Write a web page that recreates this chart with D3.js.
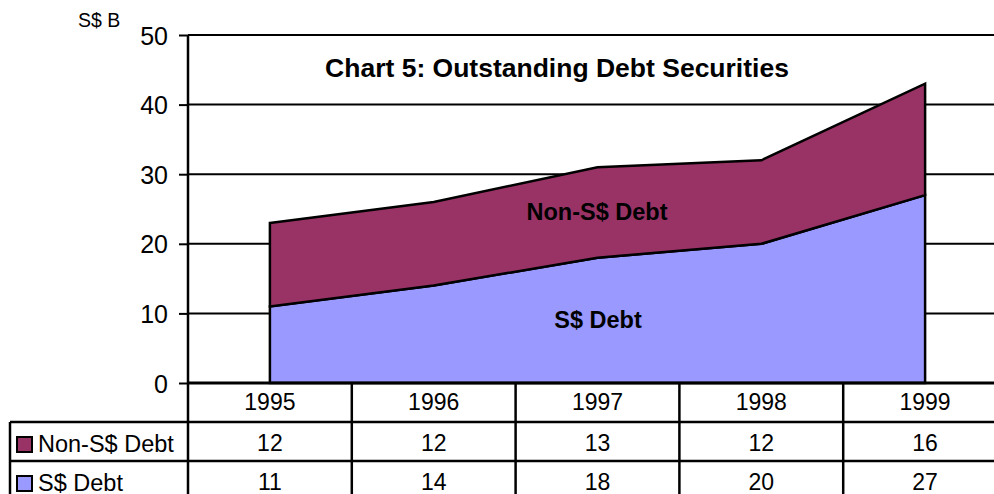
<!DOCTYPE html>
<html>
<head>
<meta charset="utf-8">
<script src="https://cdn.jsdelivr.net/npm/d3@7"></script>
<style>
	body { margin: 0; background: #fff; }
	svg { display: block; font-family: "Liberation Sans", Arial, sans-serif; }
</style>
</head>
<body>
<svg id="chart" width="994" height="494"></svg>
<script>
(function(){

	var years = ["1995", "1996", "1997", "1998", "1999"];
	var sgdDebt = [11, 14, 18, 20, 27];
	var nonSgdDebt = [12, 12, 13, 12, 16];
	var yTicks = [0, 10, 20, 30, 40, 50];
	var seriesNames = ["Non-S$ Debt", "S$ Debt"];
	var seriesColors = ["#993366", "#9999ff"];

	var svg = d3.select("#chart");
	var left = 188, right = 1007, top = 35, bottom = 383;
	var rowTops = [383, 422, 461, 500];

	var x = d3.scaleBand().domain(years).range([left, right]);
	var y = d3.scaleLinear().domain([0, 50]).range([bottom, top]);

	var rows = years.map(function(yr, i){
		return {year: yr, sgd: sgdDebt[i], non: nonSgdDebt[i]};
	});
	var stack = d3.stack().keys(["sgd", "non"])(rows);

	// gridlines
	svg.append("g")
		.selectAll("line")
		.data(yTicks.slice(1))
		.enter().append("line")
			.attr("x1", left).attr("x2", right)
			.attr("y1", function(d){ return y(d); })
			.attr("y2", function(d){ return y(d); })
			.attr("stroke", "#000")
			.attr("stroke-width", 2);

	// areas
	var area = d3.area()
		.x(function(d){ return x(d.data.year) + x.bandwidth() / 2; })
		.y0(function(d){ return y(d[0]); })
		.y1(function(d){ return y(d[1]); });

	var fills = {sgd: seriesColors[1], non: seriesColors[0]};
	svg.append("g")
		.selectAll("path")
		.data(stack)
		.enter().append("path")
			.attr("d", area)
			.attr("fill", function(d){ return fills[d.key]; })
			.attr("stroke", "#000")
			.attr("stroke-width", 2.5)
			.attr("stroke-linejoin", "miter");

	// y axis
	var yAxis = svg.append("g")
		.attr("transform", "translate(" + left + ",0)")
		.call(d3.axisLeft(y).tickValues(yTicks).tickSize(9).tickPadding(11));
	yAxis.select(".domain").attr("stroke", "#000").attr("stroke-width", 2.5).attr("d", "M0," + top + "V" + rowTops[3]);
	yAxis.selectAll(".tick line").attr("stroke", "#000").attr("stroke-width", 2);
	yAxis.selectAll(".tick text")
		.attr("fill", "#000")
		.attr("dy", "0.36em")
		.style("font-size", "25px")
		.style("font-family", "Liberation Sans, Arial, sans-serif");

	// axis baseline
	svg.append("line")
		.attr("x1", left).attr("x2", right)
		.attr("y1", bottom).attr("y2", bottom)
		.attr("stroke", "#000").attr("stroke-width", 3);

	// data table
	var table = svg.append("g");
	table.selectAll(".hline")
		.data(rowTops.slice(1))
		.enter().append("line")
			.attr("x1", 10).attr("x2", right)
			.attr("y1", function(d){ return d; })
			.attr("y2", function(d){ return d; })
			.attr("stroke", "#000").attr("stroke-width", 2.5);
	table.append("line")
		.attr("x1", 10).attr("x2", 10)
		.attr("y1", rowTops[1]).attr("y2", rowTops[3])
		.attr("stroke", "#000").attr("stroke-width", 2.5);
	table.selectAll(".vline")
		.data(years.slice(1))
		.enter().append("line")
			.attr("x1", function(d){ return x(d); })
			.attr("x2", function(d){ return x(d); })
			.attr("y1", bottom).attr("y2", rowTops[3])
			.attr("stroke", "#000").attr("stroke-width", 2.5);

	var tableRows = [years, nonSgdDebt, sgdDebt];
	tableRows.forEach(function(vals, r){
		table.selectAll(".cell" + r)
			.data(vals)
			.enter().append("text")
				.attr("x", function(d, i){ return x(years[i]) + x.bandwidth() / 2; })
				.attr("y", rowTops[r] + (r === 0 ? 27 : 29))
				.attr("text-anchor", "middle")
				.style("font-size", "23px")
				.text(function(d){ return d; });
	});

	// legend keys in table
	seriesNames.forEach(function(name, i){
		var rt = rowTops[i + 1];
		table.append("rect")
			.attr("x", 17).attr("y", rt + 15)
			.attr("width", 15).attr("height", 15)
			.attr("fill", seriesColors[i])
			.attr("stroke", "#000").attr("stroke-width", 2);
		table.append("text")
			.attr("x", 38).attr("y", rt + 30)
			.style("font-size", "23.5px")
			.text(name);
	});

	// labels
	svg.append("text")
		.attr("x", 557).attr("y", 77)
		.attr("text-anchor", "middle")
		.style("font-size", "26.5px").style("font-weight", "bold")
		.text("Chart 5: Outstanding Debt Securities");

	svg.append("text")
		.attr("x", 597).attr("y", 220)
		.attr("text-anchor", "middle")
		.style("font-size", "23.5px").style("font-weight", "bold")
		.text("Non-S$ Debt");

	svg.append("text")
		.attr("x", 598).attr("y", 328)
		.attr("text-anchor", "middle")
		.style("font-size", "23.5px").style("font-weight", "bold")
		.text("S$ Debt");

	svg.append("text")
		.attr("x", 78).attr("y", 27)
		.style("font-size", "19.5px")
		.text("S$ B");

})();
</script>
</body>
</html>
